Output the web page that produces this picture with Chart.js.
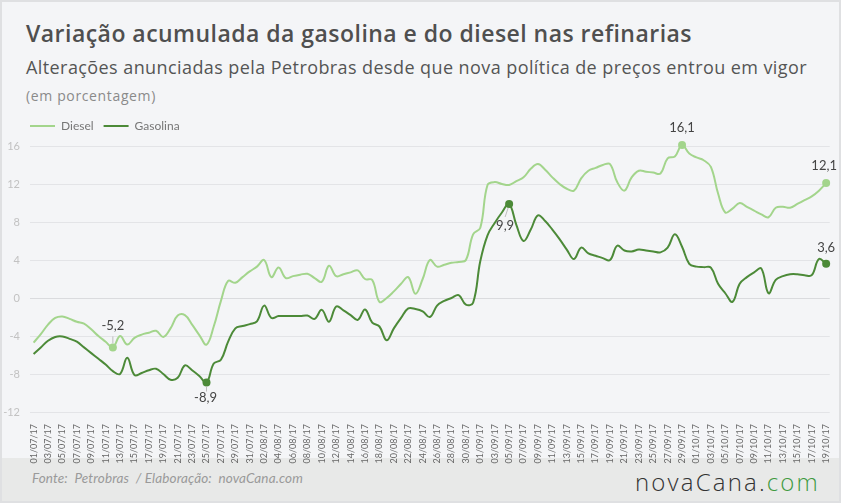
<!DOCTYPE html>
<html lang="pt-BR">
<head>
<meta charset="utf-8">
<title>Variação acumulada da gasolina e do diesel nas refinarias</title>
<script src="https://cdn.jsdelivr.net/npm/chart.js@4.4.1/dist/chart.umd.min.js"></script>
<style>
html,body{margin:0;padding:0;}
body{width:841px;height:503px;position:relative;overflow:hidden;background:#f4f5f7;font-family:Lato,'Open Sans',sans-serif;}
.t{position:absolute;white-space:nowrap;line-height:1;}
#title{left:26px;top:22px;font-family:'Open Sans';font-size:23px;font-weight:600;color:#4f4f4f;}
#sub{left:26px;top:58px;font-family:'Open Sans';font-size:18px;color:#555;}
#unit{left:26px;top:89px;font-family:'Open Sans';font-size:14px;color:#8a8a8a;}
#chartBox{position:absolute;left:0;top:110px;width:841px;height:362px;z-index:3;}
#footer{position:absolute;left:0;top:458px;width:841px;height:45px;background:#e8e9e8;z-index:1;}
#src{left:32px;top:14px;font-size:13.5px;font-style:italic;color:#9a9a9a;}
#logo{left:635px;top:12px;font-family:'Open Sans';font-size:24px;color:#333;font-weight:300;}
#logo span{color:#3f9a3f;}
.bd{position:absolute;background:#dfe0e2;z-index:4;}
</style>
</head>
<body>
<div class="t" id="title">Variação acumulada da gasolina e do diesel nas refinarias</div>
<div class="t" id="sub">Alterações anunciadas pela Petrobras desde que nova política de preços entrou em vigor</div>
<div class="t" id="unit">(em porcentagem)</div>
<div id="footer">
  <div class="t" id="src">Fonte:&nbsp; Petrobras &nbsp;/ Elaboração:&nbsp; novaCana.com</div>
  <div class="t" id="logo">novaCana.<span>com</span></div>
</div>
<div id="chartBox"><canvas id="chart" width="841" height="362"></canvas></div>
<div class="bd" style="left:0;top:0;width:841px;height:2px"></div>
<div class="bd" style="left:0;top:501px;width:841px;height:2px"></div>
<div class="bd" style="left:0;top:0;width:2px;height:503px"></div>
<div class="bd" style="left:839px;top:0;width:2px;height:503px"></div>
<script>
// ---------- data ----------
const dates = [
 "01/07/17","02/07/17","03/07/17","04/07/17","05/07/17","06/07/17","07/07/17","08/07/17","09/07/17","10/07/17",
 "11/07/17","12/07/17","13/07/17","14/07/17","15/07/17","16/07/17","17/07/17","18/07/17","19/07/17","20/07/17",
 "21/07/17","22/07/17","23/07/17","24/07/17","25/07/17","26/07/17","27/07/17","28/07/17","29/07/17","30/07/17",
 "31/07/17","01/08/17","02/08/17","03/08/17","04/08/17","05/08/17","06/08/17","07/08/17","08/08/17","09/08/17",
 "10/08/17","11/08/17","12/08/17","13/08/17","14/08/17","15/08/17","16/08/17","17/08/17","18/08/17","19/08/17",
 "20/08/17","21/08/17","22/08/17","23/08/17","24/08/17","25/08/17","26/08/17","27/08/17","28/08/17","29/08/17",
 "30/08/17","31/08/17","01/09/17","02/09/17","03/09/17","04/09/17","05/09/17","06/09/17","07/09/17","08/09/17",
 "09/09/17","10/09/17","11/09/17","12/09/17","13/09/17","14/09/17","15/09/17","16/09/17","17/09/17","18/09/17",
 "19/09/17","20/09/17","21/09/17","22/09/17","23/09/17","24/09/17","25/09/17","26/09/17","27/09/17","28/09/17",
 "29/09/17","30/09/17","01/10/17","02/10/17","03/10/17","04/10/17","05/10/17","06/10/17","07/10/17","08/10/17",
 "09/10/17","10/10/17","11/10/17","12/10/17","13/10/17","14/10/17","15/10/17","16/10/17","17/10/17","18/10/17",
 "19/10/17"
];
const diesel = [
 -4.7,-3.8,-2.8,-2.1,-1.95,-2.2,-2.5,-2.7,-3.3,-4.0,
 -4.6,-5.2,-4.0,-4.9,-4.2,-3.85,-3.65,-3.45,-4.1,-3.2,
 -1.85,-1.8,-2.8,-3.9,-4.9,-3.0,-0.3,1.8,1.6,2.2,
 2.8,3.3,4.0,2.2,3.2,2.1,2.3,2.45,2.55,2.1,
 1.7,3.4,2.3,2.5,2.7,2.9,2.0,1.9,-0.4,0.0,
 0.7,1.5,2.2,0.45,2.0,4.0,3.3,3.5,3.7,3.8,
 4.0,6.7,7.4,11.9,12.2,12.0,11.9,12.3,12.7,13.6,
 14.1,13.5,12.7,12.0,11.5,11.3,12.6,13.4,13.7,14.0,
 14.1,12.2,11.3,12.7,13.4,13.3,13.2,13.1,14.7,14.9,
 16.1,15.2,14.8,14.5,13.8,11.0,9.0,9.4,10.0,9.6,
 9.2,8.8,8.5,9.5,9.6,9.5,9.9,10.3,10.7,11.3,
 12.1
];
const gasolina = [
 -5.9,-5.2,-4.5,-4.1,-4.05,-4.3,-4.6,-5.2,-5.8,-6.4,
 -7.0,-7.7,-8.0,-6.3,-8.1,-7.9,-7.6,-7.45,-8.0,-8.6,
 -8.4,-7.1,-7.6,-8.2,-8.9,-6.9,-6.5,-4.6,-3.2,-2.95,
 -2.75,-2.45,-0.8,-2.1,-1.9,-1.9,-1.9,-1.9,-1.85,-2.2,
 -1.25,-2.5,-0.9,-1.3,-1.8,-2.3,-1.2,-2.6,-3.0,-4.45,
 -3.2,-2.1,-1.1,-1.15,-1.4,-2.0,-0.8,-0.3,0.0,0.3,
 -0.7,-0.5,3.9,6.6,7.9,9.0,9.9,7.7,6.0,7.2,
 8.7,8.1,7.2,6.2,5.1,4.1,5.3,4.7,4.45,4.2,
 4.0,5.5,5.0,4.9,5.1,5.0,4.9,4.8,5.3,6.7,
 5.4,3.6,3.3,3.25,3.2,1.5,0.5,-0.4,1.5,2.2,
 2.7,3.1,0.5,1.9,2.3,2.5,2.5,2.4,2.4,4.1,
 3.6
];
const seriesNames = ["Diesel","Gasolina"];
const yTicks = {min:-12, max:16, step:4};
// highlighted points (dataset index, point index) and label placement
const highlights = [
 {ds:0, idx:11, dx:0,  dy:-17, leader:[0,-4,0,-11]},
 {ds:0, idx:90, dx:0,  dy:-13},
 {ds:0, idx:110,dx:-2, dy:-13},
 {ds:1, idx:24, dx:-1, dy:19.5, leader:[0,4,0,9]},
 {ds:1, idx:66, dx:-4, dy:26, leader:[-1,4,-4,13]},
 {ds:1, idx:110,dx:0,  dy:-12}
];
// ---------- style ----------
const C_DIESEL = '#a3d58c';
const C_GAS = '#4c8a38';

function fitWidth(id, target){
  const el = document.getElementById(id);
  const w = el.getBoundingClientRect().width;
  const n = el.textContent.length;
  el.style.letterSpacing = ((target - w) / n) + 'px';
}
fitWidth('title', 666);
fitWidth('sub', 781);
fitWidth('unit', 130);
fitWidth('src', 271);
fitWidth('logo', 185);

function radiusFor(ds){
  const set = highlights.filter(h => h.ds === ds).map(h => h.idx);
  return c => set.includes(c.dataIndex) ? 4 : 0;
}

const labelPlugin = {
  id:'pointLabels',
  afterLayout(chart){
    // move the legend so that it lines up with the plot area
    chart.legend.left += 20;
    chart.legend.right += 20;
  },
  afterDatasetsDraw(chart){
    const ctx = chart.ctx;
    ctx.save();
    highlights.forEach(h => {
      const pt = chart.getDatasetMeta(h.ds).data[h.idx];
      const v = chart.data.datasets[h.ds].data[h.idx];
      if (h.leader){
        ctx.strokeStyle = '#bdbdbd'; ctx.lineWidth = 1;
        ctx.beginPath();
        ctx.moveTo(pt.x + h.leader[0], pt.y + h.leader[1]);
        ctx.lineTo(pt.x + h.leader[2], pt.y + h.leader[3]);
        ctx.stroke();
      }
      ctx.font = '13px Lato, sans-serif';
      ctx.fillStyle = '#444';
      ctx.textAlign = 'center';
      ctx.textBaseline = 'alphabetic';
      ctx.fillText(v.toFixed(1).replace('.', ','), pt.x + h.dx, pt.y + h.dy);
    });
    ctx.restore();
  }
};

new Chart(document.getElementById('chart'), {
  type:'line',
  data:{
    labels: dates,
    datasets:[
      {label:seriesNames[0], data:diesel, borderColor:C_DIESEL, backgroundColor:C_DIESEL,
       borderWidth:2, tension:0.4, pointRadius:radiusFor(0), pointHoverRadius:0,
       pointBackgroundColor:C_DIESEL, pointBorderWidth:0, clip:10, xAxisID:'x', yAxisID:'y'},
      {label:seriesNames[1], data:gasolina, borderColor:C_GAS, backgroundColor:C_GAS,
       borderWidth:2, tension:0.4, pointRadius:radiusFor(1), pointHoverRadius:0,
       pointBackgroundColor:C_GAS, pointBorderWidth:0, clip:10, xAxisID:'x', yAxisID:'y'}
    ]
  },
  options:{
    responsive:false,
    devicePixelRatio:1,
    animation:false,
    events:[],
    layout:{padding:{left:0, right:11, top:0, bottom:0}},
    plugins:{
      tooltip:{enabled:false},
      legend:{
        position:'top', align:'start',
        labels:{
          boxWidth:25, boxHeight:2, padding:10, color:'#777',
          font:{family:'Lato', size:12},
          generateLabels(chart){
            const items = Chart.defaults.plugins.legend.labels.generateLabels(chart);
            items.forEach(it => { it.lineWidth = 0; it.fillStyle = it.strokeStyle; });
            return items;
          }
        }
      }
    },
    scales:{
      x:{
        type:'category', offset:true,
        grid:{display:false}, border:{display:false},
        ticks:{
          autoSkip:false, minRotation:90, maxRotation:90, padding:4,
          color:'#666', font:{family:'Lato', size:9},
          callback(v, i){ return i % 2 === 0 ? this.getLabelForValue(v) : ''; }
        },
        afterFit(s){ s.height = 60; }
      },
      spacer:{
        type:'category', position:'top', display:true,
        ticks:{display:false}, grid:{display:false, drawTicks:false}, border:{display:false},
        afterFit(s){ s.height = 4; }
      },
      y:{
        min:yTicks.min, max:yTicks.max,
        ticks:{stepSize:yTicks.step, padding:10, color:'#c2c2c2', font:{family:'Lato', size:11}},
        grid:{color:c => c.tick && c.tick.value === 0 ? '#dadbde' : '#e3e4e7', lineWidth:1, drawTicks:false},
        border:{display:false},
        afterFit(s){ s.width = 30; }
      }
    }
  },
  plugins:[labelPlugin]
});
</script>
</body>
</html>
